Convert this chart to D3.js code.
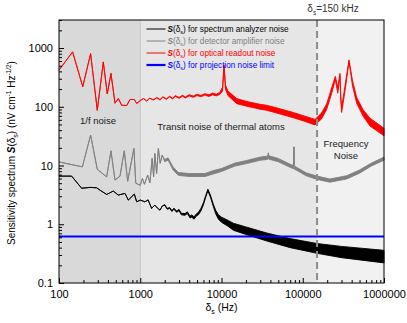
<!DOCTYPE html>
<html>
<head>
<meta charset="utf-8">
<script src="https://cdn.jsdelivr.net/npm/d3@7"></script>
<style>
  body { margin: 0; background: #fff; }
  text { font-family: "Liberation Sans", Arial, sans-serif; }
</style>
</head>
<body>
<div id="chart"></div>
<script>
const ancho = 407;
const alto = 323;
const margen = { superior: 20, inferior: 40, izquierdo: 59, derecho: 23 };

// ---------------- datos ----------------
const xTicks = [100, 1000, 10000, 100000, 1000000];
const yTicks = [0.1, 1, 10, 100, 1000];

// ruido de lectura optica (rojo)
const redFreq = [100, 147, 196, 245, 296, 351, 393, 436, 489, 537, 591, 681, 748, 845, 904,
  1000, 1100, 1200, 1300, 1450, 1600, 1750, 1900, 2100, 2300, 2500, 2700, 3000, 3300, 3600,
  4000, 4500, 5000, 5600, 6200, 7000, 7800, 8600, 9500, 10300, 10740, 11200, 12000, 15400,
  20000, 29800, 36000, 50000, 76500, 100000, 141600, 170000, 197000, 227000, 252000, 270000,
  287000, 293000, 301000, 330000, 371000, 410000, 461000, 550000, 672000, 1000000];
const redLow = [420, 860, 220, 800, 87, 580, 165, 370, 115, 138, 106, 105, 133, 133, 114,
  128, 138, 125, 140, 130, 142, 130, 145, 134, 147, 136, 150, 139, 151, 141,
  153, 145, 155, 148, 158, 150, 160, 153, 162, 185, 490, 200, 155, 113,
  103, 91, 87, 77, 65, 58, 49, 62, 90, 170, 290, 170,
  340, 135, 80, 180, 580, 225, 115, 70, 47, 32];
const redHigh = [420, 860, 220, 800, 87, 580, 165, 370, 115, 138, 106, 105, 133, 133, 114,
  128, 138, 125, 140, 132, 144, 133, 148, 137, 151, 140, 155, 144, 157, 147,
  160, 152, 163, 156, 167, 160, 171, 164, 175, 215, 520, 235, 185, 138,
  124, 110, 106, 94, 80, 71, 61, 78, 112, 210, 330, 210,
  370, 165, 97, 220, 630, 275, 145, 90, 64, 43];

// ruido del amplificador del detector (gris)
const grayFreq = [100, 194, 245, 296, 386, 436, 489, 563, 636, 700, 836, 881, 1000, 1063, 1126,
  1234, 1315, 1400, 1460, 1512, 1590, 1670, 1760, 1860, 2000, 2200, 2550, 2950, 4000, 6270,
  7930, 10000, 14660, 20400, 30000, 37000, 37700, 38400, 50000, 70000, 77000, 78000, 79000,
  84200, 110000, 150000, 216000, 347000, 500000, 700000, 1000000];
const grayLow = [11.5, 9.5, 33, 8.6, 6.4, 17.8, 5.65, 6.6, 17.8, 5.4, 19.5, 5.0, 4.6, 6.0, 4.8,
  6.9, 5.1, 13.2, 6.4, 16, 7.3, 19.5, 10.9, 15, 11.6, 12.4, 8.3, 6.8, 6.5, 6.5,
  7.2, 7.9, 9.8, 10.8, 12.3, 12.7, 13.2, 12.8, 11.6, 9.3, 8.8, 20.8, 8.6,
  8.3, 6.7, 5.8, 5.2, 5.9, 7.4, 9.8, 12.3];
const grayHigh = [11.5, 9.5, 33, 8.6, 6.4, 17.8, 5.65, 6.6, 17.8, 5.4, 19.5, 5.0, 4.6, 6.0, 4.8,
  6.9, 5.1, 13.2, 6.4, 16, 7.3, 19.5, 10.9, 15, 12.6, 13.5, 9.3, 7.6, 7.3, 7.3,
  8.2, 8.9, 11.0, 12.2, 13.9, 14.5, 16.5, 14.6, 13.2, 10.5, 10.0, 20.8, 9.8,
  9.3, 7.5, 6.6, 5.9, 6.7, 8.4, 11.0, 13.9];

// ruido del analizador de espectro (negro)
const blackFreq = [100, 143, 190, 241, 290, 320, 386, 466, 537, 649, 713, 845, 904, 1000, 1140,
  1250, 1380, 1510, 1620, 1750, 1870, 2000, 2150, 2300, 2450, 2600, 2800, 3000, 3200, 3550,
  3800, 4100, 4300, 4600, 4900, 5200, 5600, 6000, 6400, 6800, 7300, 7930, 8500, 9160, 10000,
  12100, 14000, 20000, 36000, 70000, 150000, 300000, 1000000];
const blackLow = [6.6, 6.6, 4.1, 4.24, 4.18, 3.8, 3.22, 3.67, 3.14, 3.35, 2.58, 3.26, 2.41, 2.58, 2.41,
  2.6, 1.86, 2.12, 1.9, 1.74, 2.05, 2.1, 1.8, 1.86, 1.65, 1.8, 1.6, 1.7, 1.45, 1.42,
  1.52, 1.28, 1.32, 1.22, 1.38, 1.45, 1.7, 2.15, 2.9, 3.7, 2.9, 2.0, 1.5, 1.22, 1.08,
  0.92, 0.79, 0.67, 0.52, 0.40, 0.32, 0.27, 0.22];
const blackHigh = [6.6, 6.6, 4.1, 4.24, 4.18, 3.8, 3.22, 3.67, 3.14, 3.35, 2.58, 3.26, 2.41, 2.58, 2.41,
  2.6, 1.86, 2.12, 1.9, 1.74, 2.05, 2.16, 1.86, 1.93, 1.72, 1.88, 1.68, 1.79, 1.54, 1.52,
  1.63, 1.38, 1.44, 1.34, 1.5, 1.6, 1.88, 2.35, 3.1, 3.95, 3.15, 2.2, 1.72, 1.45, 1.32,
  1.16, 1.04, 0.9, 0.71, 0.57, 0.47, 0.42, 0.36];

// limite de ruido de proyeccion (azul)
const blueFreq = [100, 1000000];
const blueValue = [0.62, 0.62];

const regiones = [
  { desde: 100, hasta: 1000, color: "#d9d9d9" },
  { desde: 1000, hasta: 150000, color: "#e6e6e6" },
  { desde: 150000, hasta: 1000000, color: "#f1f1f1" },
];
const corte = 150000;

const series = [
  { nombre: "for spectrum analyzer noise", color: "#000000", f: blackFreq, lo: blackLow, hi: blackHigh },
  { nombre: "for detector amplifier noise", color: "#808080", f: grayFreq, lo: grayLow, hi: grayHigh },
  { nombre: "for optical readout noise", color: "#ff0000", f: redFreq, lo: redLow, hi: redHigh },
  { nombre: "for projection noise limit", color: "#0000ff", f: blueFreq, lo: blueValue, hi: blueValue },
];

// ---------------- svg ----------------
const svg = d3.select("#chart").append("svg")
  .attr("width", ancho).attr("height", alto);

const w = ancho - margen.izquierdo - margen.derecho;
const h = alto - margen.superior - margen.inferior;

const x = d3.scaleLog().domain([100, 1000000]).range([0, w]);
const y = d3.scaleLog().domain([0.1, 3000]).range([h, 0]);

const g = svg.append("g").attr("transform", `translate(${margen.izquierdo},${margen.superior})`);

// fondos
g.selectAll("rect.region").data(regiones).enter().append("rect")
  .attr("class", "region")
  .attr("x", (d) => x(d.desde))
  .attr("y", 0)
  .attr("width", (d) => x(d.hasta) - x(d.desde))
  .attr("height", h)
  .attr("fill", (d) => d.color);

g.append("line")
  .attr("x1", x(1000)).attr("x2", x(1000))
  .attr("y1", 0).attr("y2", h)
  .attr("stroke", "#c4c4c4").attr("stroke-width", 1);

// curvas
const banda = d3.area()
  .x((d) => x(d.f))
  .y0((d) => y(d.lo))
  .y1((d) => y(d.hi));

series.slice(0, 3).forEach((s) => {
  const pts = s.f.map((f, i) => ({ f: f, lo: s.lo[i], hi: s.hi[i] }));
  g.append("path")
    .datum(pts)
    .attr("d", banda)
    .attr("fill", s.color)
    .attr("stroke", s.color)
    .attr("stroke-width", 0.9)
    .attr("stroke-linejoin", "round");
});

const linea = d3.line().x((d) => x(d.f)).y((d) => y(d.v));
g.append("path")
  .datum(blueFreq.map((f, i) => ({ f: f, v: blueValue[i] })))
  .attr("d", linea)
  .attr("fill", "none")
  .attr("stroke", "#0000ff")
  .attr("stroke-width", 2);

// linea de corte 150 kHz
g.append("line")
  .attr("x1", x(corte)).attr("x2", x(corte))
  .attr("y1", 0).attr("y2", h)
  .attr("stroke", "#8c8c8c").attr("stroke-width", 2)
  .attr("stroke-dasharray", "7,4");

// ejes
const minorX = [];
for (let dec = 100; dec < 1000000; dec *= 10) {
  for (let k = 2; k <= 9; k++) minorX.push(dec * k);
}
const minorY = [];
for (let dec = 0.1; dec < 3000; dec *= 10) {
  for (let k = 2; k <= 9; k++) if (dec * k <= 3000) minorY.push(+(dec * k).toPrecision(2));
}

const grupoX = g.append("g").attr("transform", `translate(0,${h})`);
grupoX.call(d3.axisBottom(x).tickValues(xTicks).tickSize(-5).tickPadding(7).tickFormat(d3.format("d")));
grupoX.append("g").call(d3.axisBottom(x).tickValues(minorX).tickSize(-3).tickFormat(""));

const grupoY = g.append("g");
grupoY.call(d3.axisLeft(y).tickValues(yTicks).tickSize(-5).tickPadding(6).tickFormat((d) => (d < 1 ? "0.1" : d3.format("d")(d))));
grupoY.append("g").call(d3.axisLeft(y).tickValues(minorY).tickSize(-3).tickFormat(""));

svg.selectAll(".domain").remove();
svg.selectAll(".tick line").attr("stroke", "#000");
svg.selectAll(".tick text").attr("font-size", 11).attr("fill", "#000")
  .style("font-family", "'Liberation Sans', Arial, sans-serif");

// marco
g.append("rect")
  .attr("x", 0).attr("y", 0).attr("width", w).attr("height", h)
  .attr("fill", "none").attr("stroke", "#000").attr("stroke-width", 1);

// leyenda
const leyenda = g.append("g").attr("transform", `translate(${146.5 - margen.izquierdo},${29 - margen.superior})`);
series.forEach((s, i) => {
  const fila = leyenda.append("g").attr("transform", `translate(0,${i * 12})`);
  fila.append("line").attr("x1", 0).attr("x2", 19).attr("y1", 0).attr("y2", 0)
    .attr("stroke", s.color).attr("stroke-width", i === 3 ? 2.2 : 1);
  const t = fila.append("text").attr("x", 21).attr("y", 3).attr("font-size", 8.2).attr("fill", s.color);
  t.append("tspan").attr("font-weight", "bold").attr("font-style", "italic").text("S");
  t.append("tspan").text("(δ");
  t.append("tspan").attr("font-size", 5.5).attr("dy", 2).text("s");
  t.append("tspan").attr("dy", -2).text(") " + s.nombre);
});

// anotaciones
const notas = [
  { t: "1/f noise", x: 98, y: 124, anchor: "middle" },
  { t: "Transit noise of thermal atoms", x: 221, y: 130, anchor: "middle" },
  { t: "Frequency", x: 346, y: 147, anchor: "middle" },
  { t: "Noise", x: 346, y: 159, anchor: "middle" },
];
svg.selectAll("text.nota").data(notas).enter().append("text")
  .attr("class", "nota")
  .attr("x", (d) => d.x).attr("y", (d) => d.y)
  .attr("text-anchor", (d) => d.anchor)
  .attr("font-size", 9.5).attr("fill", "#1a1a1a")
  .text((d) => d.t);

// etiqueta del corte
const tc = svg.append("text").attr("x", 333).attr("y", 12).attr("text-anchor", "middle")
  .attr("font-size", 10).attr("fill", "#333");
tc.append("tspan").text("δ");
tc.append("tspan").attr("font-size", 6.5).attr("dy", 2.5).text("s");
tc.append("tspan").attr("dy", -2.5).text("=150 kHz");

// titulo eje x
const tx = svg.append("text").attr("x", margen.izquierdo + w / 2).attr("y", 311)
  .attr("text-anchor", "middle").attr("font-size", 10.5).attr("fill", "#000");
tx.append("tspan").text("δ");
tx.append("tspan").attr("font-size", 7).attr("dy", 2.5).text("s");
tx.append("tspan").attr("dy", -2.5).text(" (Hz)");

// titulo eje y
const ty = svg.append("text")
  .attr("transform", `translate(15,153) rotate(-90)`)
  .attr("text-anchor", "middle").attr("font-size", 10).attr("fill", "#000");
ty.append("tspan").text("Sensitivity spectrum ");
ty.append("tspan").attr("font-weight", "bold").attr("font-style", "italic").text("S");
ty.append("tspan").text("(δ");
ty.append("tspan").attr("font-size", 7).attr("dy", 2.5).text("s");
ty.append("tspan").attr("dy", -2.5).text(") (nV cm");
ty.append("tspan").attr("font-size", 6.5).attr("dy", -4).text("-1");
ty.append("tspan").attr("dy", 4).text(" Hz");
ty.append("tspan").attr("font-size", 6.5).attr("dy", -4).text("-1/2");
ty.append("tspan").attr("dy", 4).text(")");
</script>
</body>
</html>
